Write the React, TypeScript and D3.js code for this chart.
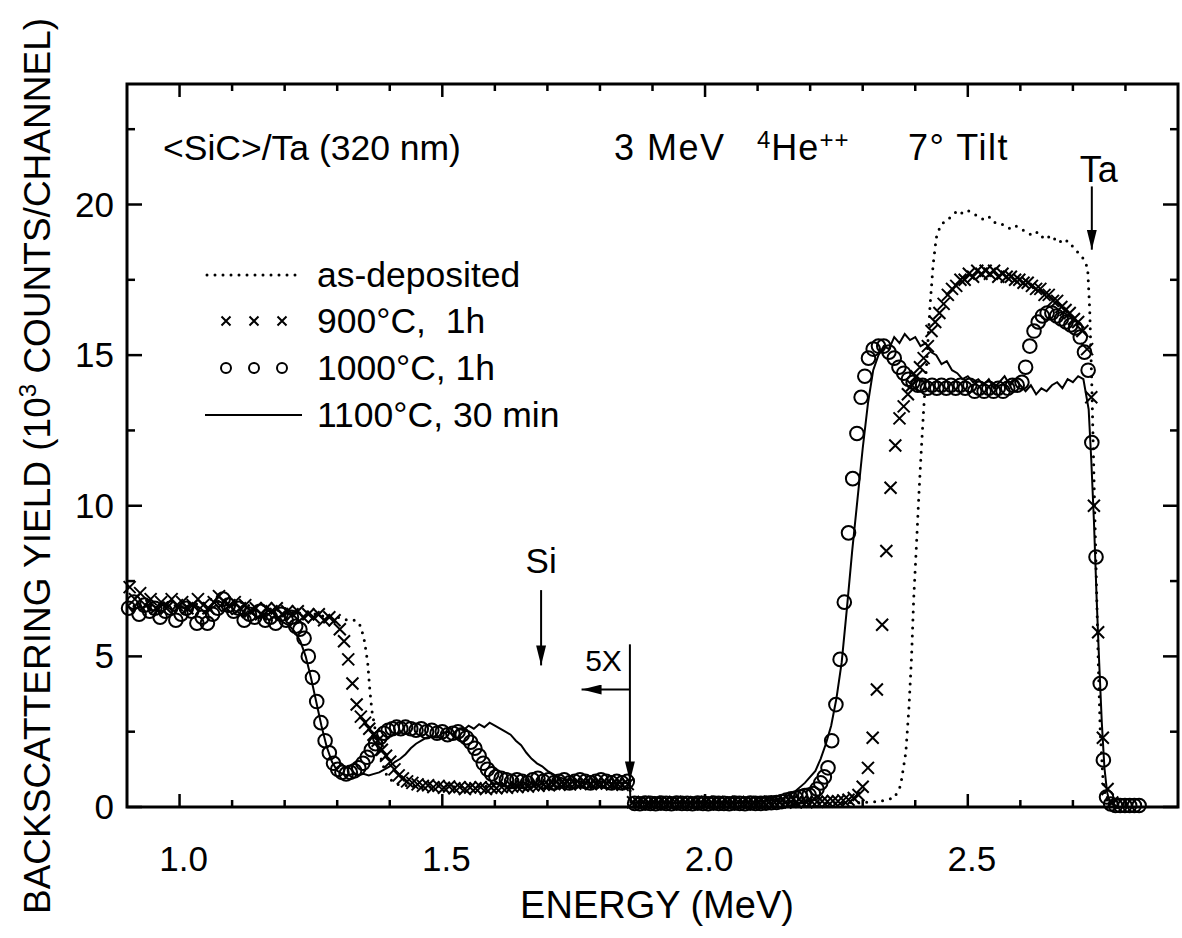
import { useEffect, useRef } from "react";
import * as d3 from "d3";

type Pt = [number, number];

const W = 1182;
const H = 938;

// axes
const X_DOMAIN: Pt = [0.9, 2.9];
const Y_DOMAIN: Pt = [0, 24];
const X_MAJOR = [1.0, 1.5, 2.0, 2.5];
const X_MINOR = [1.1, 1.2, 1.3, 1.4, 1.6, 1.7, 1.8, 1.9, 2.1, 2.2, 2.3, 2.4, 2.6, 2.7, 2.8];
const Y_MAJOR = [0, 5, 10, 15, 20];
const Y_MINOR = [2.5, 7.5, 12.5, 17.5, 22.5];

const LEGEND = ["as-deposited", "900°C,  1h", "1000°C, 1h", "1100°C, 30 min"];

// as-deposited (dotted)
const ASDEP: Pt[] = [
  [0.9, 6.8], [0.92, 6.6], [0.94, 6.9], [0.96, 6.7], [0.98, 6.8], [1.0, 6.6], [1.02, 6.8], [1.04, 6.7],
  [1.06, 6.9], [1.08, 6.8], [1.1, 6.7], [1.12, 6.8], [1.14, 6.6], [1.16, 6.7], [1.18, 6.5], [1.2, 6.6],
  [1.22, 6.4], [1.24, 6.5], [1.26, 6.4], [1.28, 6.3], [1.3, 6.3], [1.32, 6.2], [1.335, 6.2], [1.345, 6.0],
  [1.352, 5.5], [1.358, 4.8], [1.362, 3.9], [1.366, 3.2], [1.372, 2.6], [1.378, 2.0], [1.385, 1.5],
  [1.393, 1.1], [1.402, 0.9], [1.415, 0.75], [1.44, 0.7], [1.47, 0.65], [1.5, 0.7], [1.53, 0.66],
  [1.56, 0.68], [1.6, 0.7], [1.65, 0.74], [1.7, 0.78], [1.75, 0.8], [1.8, 0.76], [1.857, 0.8],
  [1.858, 0.15], [1.9, 0.15], [1.95, 0.14], [2.0, 0.15], [2.05, 0.14], [2.1, 0.15], [2.15, 0.14],
  [2.2, 0.15], [2.25, 0.14], [2.3, 0.15], [2.33, 0.18], [2.36, 0.3], [2.372, 0.7], [2.382, 1.8],
  [2.388, 3.3], [2.393, 5.0], [2.397, 6.9], [2.402, 8.6], [2.407, 10.4], [2.412, 12.0], [2.416, 13.2],
  [2.422, 14.8], [2.428, 16.6], [2.434, 18.0], [2.44, 18.9], [2.448, 19.3], [2.46, 19.5], [2.47, 19.6],
  [2.48, 19.8], [2.49, 19.7], [2.5, 19.8], [2.51, 19.7], [2.52, 19.6], [2.53, 19.5], [2.54, 19.6],
  [2.55, 19.4], [2.56, 19.4], [2.57, 19.3], [2.58, 19.2], [2.59, 19.3], [2.6, 19.2], [2.61, 19.1],
  [2.62, 19.0], [2.63, 19.1], [2.64, 18.9], [2.65, 19.0], [2.66, 18.8], [2.67, 18.9], [2.68, 18.7],
  [2.69, 18.8], [2.7, 18.6], [2.71, 18.4], [2.72, 18.2], [2.728, 17.9], [2.732, 16.5], [2.736, 14.0],
  [2.74, 11.0], [2.744, 8.0], [2.748, 5.0], [2.752, 2.5], [2.757, 1.0], [2.762, 0.3], [2.77, 0.1],
];

// 900 C, 1h (crosses)
const A900: Pt[] = [
  [0.905, 7.3], [0.915, 6.9], [0.925, 7.1], [0.935, 6.7], [0.945, 6.9], [0.955, 6.6], [0.965, 6.8],
  [0.975, 6.6], [0.985, 6.9], [0.995, 6.7], [1.005, 6.8], [1.015, 6.6], [1.025, 6.7], [1.035, 6.9],
  [1.045, 6.7], [1.055, 6.6], [1.065, 6.8], [1.075, 7.0], [1.085, 6.8], [1.095, 6.7], [1.105, 6.8],
  [1.115, 6.6], [1.125, 6.7], [1.135, 6.5], [1.145, 6.6], [1.155, 6.4], [1.165, 6.6], [1.175, 6.5],
  [1.185, 6.6], [1.195, 6.4], [1.205, 6.5], [1.215, 6.4], [1.225, 6.5], [1.235, 6.3], [1.245, 6.4],
  [1.255, 6.3], [1.265, 6.4], [1.275, 6.2], [1.285, 6.3], [1.295, 6.2], [1.305, 5.9], [1.313, 5.5],
  [1.321, 4.9], [1.329, 4.1], [1.337, 3.4], [1.345, 3.0], [1.353, 2.8], [1.361, 2.6], [1.369, 2.4],
  [1.377, 2.2], [1.385, 1.9], [1.393, 1.7], [1.401, 1.5], [1.409, 1.25], [1.417, 1.05], [1.425, 0.95],
  [1.433, 0.85], [1.443, 0.8], [1.453, 0.75], [1.463, 0.7], [1.473, 0.72], [1.483, 0.66], [1.493, 0.7],
  [1.503, 0.64], [1.513, 0.68], [1.523, 0.62], [1.533, 0.66], [1.543, 0.6], [1.553, 0.65], [1.563, 0.62],
  [1.573, 0.66], [1.583, 0.6], [1.593, 0.64], [1.603, 0.62], [1.613, 0.66], [1.623, 0.64], [1.633, 0.68],
  [1.643, 0.66], [1.653, 0.7], [1.663, 0.68], [1.673, 0.72], [1.683, 0.7], [1.693, 0.74], [1.703, 0.72],
  [1.713, 0.76], [1.723, 0.74], [1.733, 0.78], [1.743, 0.75], [1.753, 0.78], [1.763, 0.76], [1.773, 0.8],
  [1.783, 0.77], [1.793, 0.79], [1.803, 0.76], [1.813, 0.78], [1.823, 0.75], [1.833, 0.77], [1.843, 0.74],
  [1.853, 0.76],
  [1.863, 0.16], [1.873, 0.15], [1.883, 0.17], [1.893, 0.15], [1.903, 0.16], [1.913, 0.14], [1.923, 0.16],
  [1.933, 0.15], [1.943, 0.17], [1.953, 0.15], [1.963, 0.16], [1.973, 0.14], [1.983, 0.16], [1.993, 0.15],
  [2.003, 0.17], [2.013, 0.15], [2.023, 0.16], [2.033, 0.14], [2.043, 0.16], [2.053, 0.15], [2.063, 0.17],
  [2.073, 0.15], [2.083, 0.16], [2.093, 0.14], [2.103, 0.16], [2.113, 0.15], [2.123, 0.17], [2.133, 0.15],
  [2.143, 0.16], [2.153, 0.15], [2.163, 0.17], [2.173, 0.16], [2.183, 0.18], [2.193, 0.16], [2.203, 0.18],
  [2.213, 0.17], [2.223, 0.19], [2.233, 0.18], [2.243, 0.2], [2.253, 0.19], [2.263, 0.22], [2.273, 0.24],
  [2.283, 0.3], [2.292, 0.4], [2.3, 0.67], [2.31, 1.3], [2.319, 2.3], [2.327, 3.9], [2.337, 6.05],
  [2.345, 8.5], [2.353, 10.6], [2.362, 12.0], [2.37, 12.9], [2.378, 13.3], [2.386, 13.7], [2.394, 14.0],
  [2.402, 14.3], [2.409, 14.6], [2.416, 14.9], [2.424, 15.3], [2.431, 15.8], [2.438, 16.1], [2.446, 16.4],
  [2.454, 16.7], [2.462, 17.0], [2.47, 17.2], [2.478, 17.3], [2.486, 17.5], [2.494, 17.5], [2.502, 17.7],
  [2.51, 17.6], [2.518, 17.8], [2.526, 17.7], [2.534, 17.8], [2.542, 17.7], [2.55, 17.8], [2.558, 17.6],
  [2.566, 17.7], [2.574, 17.6], [2.582, 17.6], [2.59, 17.5], [2.598, 17.5], [2.606, 17.4], [2.614, 17.4],
  [2.622, 17.3], [2.63, 17.2], [2.638, 17.2], [2.646, 17.0], [2.654, 17.0], [2.662, 16.8], [2.67, 16.8],
  [2.678, 16.6], [2.686, 16.5], [2.694, 16.4], [2.702, 16.2], [2.71, 16.1], [2.718, 15.8], [2.727, 15.2],
  [2.735, 13.6], [2.74, 10.0], [2.748, 5.8], [2.757, 2.3], [2.766, 0.6], [2.775, 0.15],
];

// 1000 C, 1h (circles)
const A1000: Pt[] = [
  [0.903, 6.6], [0.913, 6.8], [0.923, 6.4], [0.933, 6.7], [0.943, 6.5], [0.953, 6.6], [0.963, 6.3],
  [0.973, 6.5], [0.983, 6.6], [0.993, 6.2], [1.003, 6.4], [1.013, 6.6], [1.023, 6.5], [1.033, 6.1],
  [1.043, 6.3], [1.053, 6.1], [1.063, 6.4], [1.073, 6.6], [1.083, 6.9], [1.093, 6.7], [1.103, 6.5],
  [1.113, 6.6], [1.123, 6.2], [1.133, 6.4], [1.143, 6.3], [1.153, 6.5], [1.163, 6.2], [1.173, 6.3],
  [1.183, 6.1], [1.193, 6.4], [1.203, 6.2], [1.213, 6.3], [1.221, 6.0], [1.229, 5.9], [1.237, 5.6],
  [1.245, 5.0], [1.253, 4.3], [1.261, 3.5], [1.269, 2.8], [1.277, 2.2], [1.285, 1.8], [1.293, 1.45],
  [1.301, 1.25], [1.309, 1.15], [1.317, 1.1], [1.325, 1.15], [1.333, 1.2], [1.341, 1.3], [1.349, 1.45],
  [1.357, 1.65], [1.365, 1.9], [1.373, 2.1], [1.381, 2.3], [1.389, 2.45], [1.397, 2.55], [1.405, 2.6],
  [1.413, 2.65], [1.421, 2.6], [1.43, 2.65], [1.44, 2.6], [1.45, 2.55], [1.46, 2.6], [1.47, 2.5],
  [1.48, 2.55], [1.49, 2.45], [1.5, 2.5], [1.51, 2.4], [1.52, 2.45], [1.53, 2.5], [1.538, 2.4],
  [1.546, 2.3], [1.554, 2.15], [1.562, 1.95], [1.57, 1.7], [1.578, 1.45], [1.586, 1.25], [1.594, 1.1],
  [1.602, 1.0], [1.612, 0.95], [1.622, 0.9], [1.632, 0.85], [1.642, 0.9], [1.652, 0.85], [1.662, 0.8],
  [1.672, 0.9], [1.682, 0.95], [1.692, 0.85], [1.702, 0.9], [1.712, 0.8], [1.722, 0.85], [1.732, 0.9],
  [1.742, 0.8], [1.752, 0.85], [1.762, 0.9], [1.772, 0.85], [1.782, 0.8], [1.792, 0.85], [1.802, 0.9],
  [1.812, 0.85], [1.822, 0.8], [1.832, 0.85], [1.842, 0.8], [1.852, 0.85],
  [1.866, 0.12], [1.876, 0.11], [1.886, 0.13], [1.896, 0.12], [1.906, 0.11], [1.916, 0.13], [1.926, 0.12],
  [1.936, 0.11], [1.946, 0.13], [1.956, 0.12], [1.966, 0.12], [1.976, 0.11], [1.986, 0.13], [1.996, 0.12],
  [2.006, 0.11], [2.016, 0.13], [2.026, 0.12], [2.036, 0.12], [2.046, 0.11], [2.056, 0.13], [2.066, 0.12],
  [2.076, 0.11], [2.086, 0.13], [2.096, 0.12], [2.106, 0.12], [2.116, 0.13], [2.126, 0.14], [2.136, 0.15],
  [2.146, 0.18], [2.155, 0.23], [2.164, 0.27], [2.173, 0.3], [2.182, 0.34], [2.19, 0.38], [2.198, 0.4],
  [2.206, 0.45], [2.213, 0.6], [2.22, 0.8], [2.227, 1.0], [2.234, 1.3], [2.241, 2.2], [2.249, 3.4],
  [2.257, 4.9], [2.265, 6.8], [2.273, 9.1], [2.281, 10.9], [2.289, 12.4], [2.297, 13.6], [2.304, 14.3],
  [2.311, 14.9], [2.32, 15.2], [2.33, 15.3], [2.34, 15.3], [2.35, 15.1], [2.36, 14.9], [2.369, 14.6],
  [2.378, 14.4], [2.387, 14.2], [2.396, 14.1], [2.405, 14.0], [2.414, 14.0], [2.423, 13.9], [2.432, 14.0],
  [2.441, 13.9], [2.45, 14.0], [2.459, 13.9], [2.468, 14.0], [2.477, 13.9], [2.486, 14.0], [2.495, 13.9],
  [2.504, 14.0], [2.513, 13.8], [2.522, 13.9], [2.531, 13.8], [2.54, 13.9], [2.549, 13.8], [2.558, 13.9],
  [2.567, 13.8], [2.576, 13.9], [2.585, 14.0], [2.594, 14.0], [2.603, 14.1], [2.61, 14.6], [2.618, 15.3],
  [2.626, 15.8], [2.634, 16.1], [2.642, 16.3], [2.651, 16.4], [2.66, 16.4], [2.669, 16.3], [2.678, 16.2],
  [2.687, 16.1], [2.696, 16.0], [2.705, 15.9], [2.714, 15.6], [2.722, 15.1], [2.729, 14.5], [2.736, 12.1],
  [2.744, 8.3], [2.752, 4.1], [2.758, 1.56], [2.764, 0.33], [2.772, 0.1], [2.781, 0.05], [2.79, 0.05],
  [2.799, 0.05], [2.808, 0.05], [2.817, 0.05], [2.826, 0.05],
];

// 1100 C, 30 min (solid)
const A1100: Pt[] = [
  [0.9, 6.7], [0.91, 6.5], [0.92, 6.8], [0.93, 6.6], [0.94, 6.7], [0.95, 6.5], [0.96, 6.6], [0.97, 6.8],
  [0.98, 6.6], [0.99, 6.5], [1.0, 6.7], [1.01, 6.6], [1.02, 6.5], [1.03, 6.7], [1.04, 6.6], [1.05, 6.4],
  [1.06, 6.6], [1.07, 6.7], [1.08, 6.5], [1.09, 6.6], [1.1, 6.4], [1.11, 6.5], [1.12, 6.3], [1.13, 6.5],
  [1.14, 6.4], [1.15, 6.3], [1.16, 6.4], [1.17, 6.2], [1.18, 6.3], [1.19, 6.2], [1.2, 6.1], [1.21, 6.0],
  [1.22, 5.8], [1.23, 5.5], [1.24, 5.0], [1.25, 4.3], [1.26, 3.5], [1.27, 2.7], [1.28, 2.0], [1.29, 1.5],
  [1.3, 1.2], [1.31, 1.1], [1.32, 1.05], [1.33, 1.1], [1.34, 1.05], [1.35, 1.1], [1.36, 1.05], [1.37, 1.1],
  [1.38, 1.15], [1.39, 1.25], [1.4, 1.35], [1.41, 1.5], [1.42, 1.6], [1.43, 1.75], [1.44, 1.95], [1.45, 2.1],
  [1.46, 2.2], [1.47, 2.3], [1.48, 2.35], [1.49, 2.3], [1.5, 2.45], [1.51, 2.5], [1.52, 2.4], [1.53, 2.6],
  [1.54, 2.55], [1.55, 2.7], [1.56, 2.6], [1.57, 2.75], [1.58, 2.65], [1.59, 2.8], [1.6, 2.7], [1.61, 2.6],
  [1.62, 2.5], [1.63, 2.4], [1.64, 2.2], [1.65, 2.05], [1.66, 1.8], [1.67, 1.6], [1.68, 1.45], [1.69, 1.35],
  [1.7, 1.2], [1.71, 1.1], [1.72, 1.0], [1.73, 0.95], [1.74, 0.9], [1.76, 0.85], [1.78, 0.8], [1.8, 0.85],
  [1.82, 0.8], [1.84, 0.8], [1.857, 0.8], [1.858, 0.15], [1.9, 0.15], [1.95, 0.13], [2.0, 0.15], [2.05, 0.14],
  [2.1, 0.18], [2.13, 0.24], [2.15, 0.3], [2.17, 0.5], [2.19, 0.8], [2.21, 1.2], [2.22, 1.6], [2.23, 2.1],
  [2.24, 2.7], [2.25, 3.6], [2.26, 4.8], [2.27, 6.6], [2.28, 8.5], [2.29, 10.2], [2.3, 11.9], [2.31, 13.4],
  [2.32, 14.5], [2.33, 15.0], [2.34, 15.3], [2.35, 15.2], [2.36, 15.6], [2.37, 15.4], [2.38, 15.7],
  [2.39, 15.5], [2.4, 15.6], [2.41, 15.3], [2.42, 15.4], [2.43, 15.1], [2.44, 15.0], [2.45, 14.7],
  [2.46, 14.8], [2.47, 14.5], [2.48, 14.4], [2.49, 14.2], [2.5, 14.3], [2.51, 14.1], [2.52, 14.2],
  [2.53, 14.0], [2.54, 14.2], [2.55, 13.9], [2.56, 14.1], [2.57, 14.3], [2.58, 14.0], [2.59, 14.2],
  [2.6, 14.0], [2.61, 13.8], [2.62, 14.0], [2.63, 13.7], [2.64, 13.9], [2.65, 13.8], [2.66, 14.0],
  [2.67, 14.1], [2.68, 13.9], [2.69, 14.2], [2.7, 14.1], [2.71, 14.3], [2.72, 14.2], [2.73, 13.2],
  [2.735, 11.5], [2.74, 9.5], [2.745, 7.0], [2.75, 4.8], [2.755, 2.8], [2.76, 1.3], [2.765, 0.5],
  [2.77, 0.15], [2.78, 0.05],
];

// annotation energies
const TA_EDGE = 2.736;
const SI_EDGE = 1.688;
const SCALE_BREAK = 1.857;

const FONT = "'Liberation Sans', Arial, Helvetica, sans-serif";

export default function App() {
  const ref = useRef<SVGSVGElement>(null);

  useEffect(() => {
    if (!ref.current) return;
    const svg = d3.select(ref.current);
    svg.selectAll("*").remove();

    const m = { left: 127, right: 1178, top: 84, bottom: 807 };
    const x = d3.scaleLinear().domain(X_DOMAIN).range([m.left, m.right]);
    const y = d3.scaleLinear().domain(Y_DOMAIN).range([m.bottom, m.top]);

    svg.append("rect").attr("width", W).attr("height", H).attr("fill", "#fff");

    // arrow head marker
    svg
      .append("defs")
      .append("marker")
      .attr("id", "head")
      .attr("viewBox", "0 0 20 10")
      .attr("refX", 20)
      .attr("refY", 5)
      .attr("markerWidth", 20)
      .attr("markerHeight", 10)
      .attr("markerUnits", "userSpaceOnUse")
      .attr("orient", "auto")
      .append("path")
      .attr("d", "M0,0 L20,5 L0,10 Z")
      .attr("fill", "#000");

    const plot = svg.append("g");

    const line = d3
      .line<Pt>()
      .x((d) => x(d[0]))
      .y((d) => y(d[1]));

    // as-deposited dotted
    plot
      .append("path")
      .datum(ASDEP)
      .attr("d", line)
      .attr("fill", "none")
      .attr("stroke", "#000")
      .attr("stroke-width", 3)
      .attr("stroke-linecap", "round")
      .attr("stroke-dasharray", "0 8");

    // 1100 solid
    plot
      .append("path")
      .datum(A1100)
      .attr("d", line)
      .attr("fill", "none")
      .attr("stroke", "#000")
      .attr("stroke-width", 2);

    // 900 crosses
    const cross = (s: number) => `M${-s},${-s}L${s},${s}M${-s},${s}L${s},${-s}`;
    plot
      .selectAll("path.x900")
      .data(A900)
      .join("path")
      .attr("class", "x900")
      .attr("transform", (d) => `translate(${x(d[0])},${y(d[1])})`)
      .attr("d", cross(6))
      .attr("stroke", "#000")
      .attr("stroke-width", 2);

    // 1000 circles
    plot
      .selectAll("circle.c1000")
      .data(A1000)
      .join("circle")
      .attr("class", "c1000")
      .attr("cx", (d) => x(d[0]))
      .attr("cy", (d) => y(d[1]))
      .attr("r", 6.8)
      .attr("fill", "none")
      .attr("stroke", "#000")
      .attr("stroke-width", 2);

    // frame
    svg
      .append("rect")
      .attr("x", m.left)
      .attr("y", m.top)
      .attr("width", m.right - m.left)
      .attr("height", m.bottom - m.top)
      .attr("fill", "none")
      .attr("stroke", "#000")
      .attr("stroke-width", 3);

    // ticks (inward, all four sides)
    const tick = (x1: number, y1: number, x2: number, y2: number) =>
      svg
        .append("line")
        .attr("x1", x1)
        .attr("y1", y1)
        .attr("x2", x2)
        .attr("y2", y2)
        .attr("stroke", "#000")
        .attr("stroke-width", 2.5);
    X_MAJOR.forEach((v) => {
      tick(x(v), m.bottom, x(v), m.bottom - 13);
      tick(x(v), m.top, x(v), m.top + 13);
    });
    X_MINOR.forEach((v) => {
      tick(x(v), m.bottom, x(v), m.bottom - 7);
      tick(x(v), m.top, x(v), m.top + 7);
    });
    Y_MAJOR.forEach((v) => {
      tick(m.left, y(v), m.left + 15, y(v));
      tick(m.right, y(v), m.right - 15, y(v));
    });
    Y_MINOR.forEach((v) => {
      tick(m.left, y(v), m.left + 8, y(v));
      tick(m.right, y(v), m.right - 8, y(v));
    });

    const txt = (tx: number, ty: number, size: number, anchor = "start") =>
      svg
        .append("text")
        .attr("x", tx)
        .attr("y", ty)
        .attr("font-size", size)
        .attr("font-family", FONT)
        .attr("text-anchor", anchor)
        .attr("fill", "#000");

    // tick labels
    X_MAJOR.forEach((v) => txt(x(v) + 4, 871, 35, "middle").text(v.toFixed(1)));
    Y_MAJOR.forEach((v) => txt(114, y(v) + 12, 35, "end").text(String(v)));

    // axis titles
    txt(657, 918, 38, "middle").text("ENERGY (MeV)");
    const yt = svg
      .append("text")
      .attr("transform", `translate(50, 466) rotate(-90)`)
      .attr("font-size", 37)
      .attr("font-family", FONT)
      .attr("text-anchor", "middle");
    yt.append("tspan").text("BACKSCATTERING YIELD (10");
    yt.append("tspan").attr("dy", -14).attr("font-size", 24).text("3");
    yt.append("tspan").attr("dy", 14).text(" COUNTS/CHANNEL)");

    // annotations
    txt(163, 160, 35.5).text("<SiC>/Ta (320 nm)");
    txt(614, 160, 36).attr("letter-spacing", 1.5).text("3 MeV");
    const he = txt(757, 160, 36).attr("letter-spacing", 1);
    he.append("tspan").attr("dy", -12).attr("font-size", 24).text("4");
    he.append("tspan").attr("dy", 12).text("He");
    he.append("tspan").attr("dy", -12).attr("font-size", 24).text("++");
    txt(908, 160, 36).attr("letter-spacing", 1.5).text("7° Tilt");

    const arrow = (x1: number, y1: number, x2: number, y2: number) =>
      svg
        .append("line")
        .attr("x1", x1)
        .attr("y1", y1)
        .attr("x2", x2)
        .attr("y2", y2)
        .attr("stroke", "#000")
        .attr("stroke-width", 2)
        .attr("marker-end", "url(#head)");

    txt(x(TA_EDGE) + 7, 182, 36, "middle").text("Ta");
    arrow(x(TA_EDGE), y(20.6), x(TA_EDGE), y(18.5));

    txt(x(SI_EDGE), 573, 35, "middle").text("Si");
    arrow(x(SI_EDGE), y(7.2), x(SI_EDGE), y(4.7));

    txt(x(SCALE_BREAK) - 8, 671, 30, "end").text("5X");
    arrow(x(SCALE_BREAK), y(5.4), x(SCALE_BREAK), y(0.85));
    arrow(x(SCALE_BREAK), y(3.9), x(1.765), y(3.9));

    // legend
    const lg = svg.append("g");
    const rows = [275, 321, 368, 415];
    lg.append("line")
      .attr("x1", 207)
      .attr("x2", 300)
      .attr("y1", rows[0])
      .attr("y2", rows[0])
      .attr("stroke", "#000")
      .attr("stroke-width", 3)
      .attr("stroke-linecap", "round")
      .attr("stroke-dasharray", "0 8");
    [226, 254, 282].forEach((cx) => {
      lg.append("path")
        .attr("transform", `translate(${cx},${rows[1]})`)
        .attr("d", cross(4.5))
        .attr("stroke", "#000")
        .attr("stroke-width", 2);
      lg.append("circle")
        .attr("cx", cx)
        .attr("cy", rows[2])
        .attr("r", 5)
        .attr("fill", "none")
        .attr("stroke", "#000")
        .attr("stroke-width", 2);
    });
    lg.append("line")
      .attr("x1", 205)
      .attr("x2", 302)
      .attr("y1", rows[3])
      .attr("y2", rows[3])
      .attr("stroke", "#000")
      .attr("stroke-width", 2);
    LEGEND.forEach((s, i) => {
      txt(317, rows[i] + 12, 35.5)
        .attr("xml:space", "preserve")
        .style("white-space", "pre")
        .text(s);
    });
  }, []);

  return (
    <svg
      ref={ref}
      width={W}
      height={H}
      style={{ position: "absolute", left: 0, top: 0, display: "block" }}
    />
  );
}
